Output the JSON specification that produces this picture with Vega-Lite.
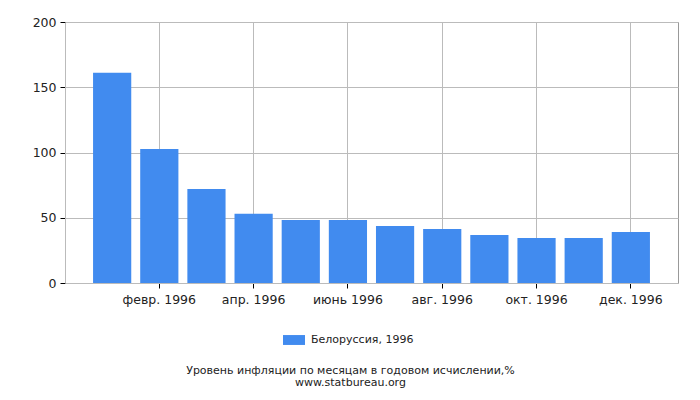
{
  "$schema": "https://vega.github.io/schema/vega-lite/v6.json",
  "autosize": {"type": "none"},
  "padding": {"left": 65, "top": 22, "right": 22, "bottom": 117},
  "width": 613,
  "height": 261,
  "background": "white",
  "data": {
    "values": [
      {"month": "янв. 1996", "value": 161.2, "series": "Белоруссия, 1996"},
      {"month": "февр. 1996", "value": 102.7, "series": "Белоруссия, 1996"},
      {"month": "март 1996", "value": 72.0, "series": "Белоруссия, 1996"},
      {"month": "апр. 1996", "value": 53.1, "series": "Белоруссия, 1996"},
      {"month": "май 1996", "value": 48.3, "series": "Белоруссия, 1996"},
      {"month": "июнь 1996", "value": 48.3, "series": "Белоруссия, 1996"},
      {"month": "июль 1996", "value": 43.7, "series": "Белоруссия, 1996"},
      {"month": "авг. 1996", "value": 41.4, "series": "Белоруссия, 1996"},
      {"month": "сент. 1996", "value": 36.8, "series": "Белоруссия, 1996"},
      {"month": "окт. 1996", "value": 34.5, "series": "Белоруссия, 1996"},
      {"month": "нояб. 1996", "value": 34.5, "series": "Белоруссия, 1996"},
      {"month": "дек. 1996", "value": 39.1, "series": "Белоруссия, 1996"}
    ]
  },
  "title": {
    "text": ["Уровень инфляции по месяцам в годовом исчислении,%", "www.statbureau.org"],
    "orient": "bottom",
    "anchor": "middle",
    "frame": "group",
    "dx": -21,
    "offset": 20,
    "font": "DejaVu Sans",
    "fontSize": 11,
    "fontWeight": "normal",
    "color": "#222",
    "lineHeight": 12
  },
  "mark": {"type": "bar"},
  "encoding": {
    "x": {
      "field": "month",
      "type": "ordinal",
      "sort": null,
      "scale": {"paddingInner": 0.19, "paddingOuter": 0.595},
      "axis": {
        "title": null,
        "values": ["февр. 1996", "апр. 1996", "июнь 1996", "авг. 1996", "окт. 1996", "дек. 1996"],
        "labelAngle": 0,
        "grid": true,
        "gridColor": "#bbbbbb",
        "gridWidth": 1,
        "domainColor": "#bbbbbb",
        "tickColor": "#000000",
        "tickSize": 5,
        "labelPadding": 5,
        "labelFont": "DejaVu Sans",
        "labelFontSize": 12.5,
        "labelColor": "#222"
      }
    },
    "y": {
      "field": "value",
      "type": "quantitative",
      "scale": {"domain": [0, 200], "nice": false},
      "axis": {
        "title": null,
        "values": [0, 50, 100, 150, 200],
        "grid": true,
        "gridColor": "#bbbbbb",
        "domainColor": "#bbbbbb",
        "tickColor": "#000000",
        "tickSize": 5,
        "labelPadding": 4,
        "labelFont": "DejaVu Sans",
        "labelFontSize": 12.5,
        "labelColor": "#222"
      }
    },
    "color": {
      "field": "series",
      "type": "nominal",
      "scale": {"range": ["#418bef"]},
      "legend": {
        "title": null,
        "orient": "none",
        "legendX": 218,
        "legendY": 307,
        "symbolType": "M-1,-0.45L1,-0.45L1,0.45L-1,0.45Z",
        "symbolSize": 484,
        "symbolStrokeWidth": 0,
        "labelFont": "DejaVu Sans",
        "labelFontSize": 11,
        "labelColor": "#222",
        "labelOffset": 6
      }
    }
  },
  "config": {
    "view": {"stroke": "#999999", "strokeWidth": 1}
  }
}
